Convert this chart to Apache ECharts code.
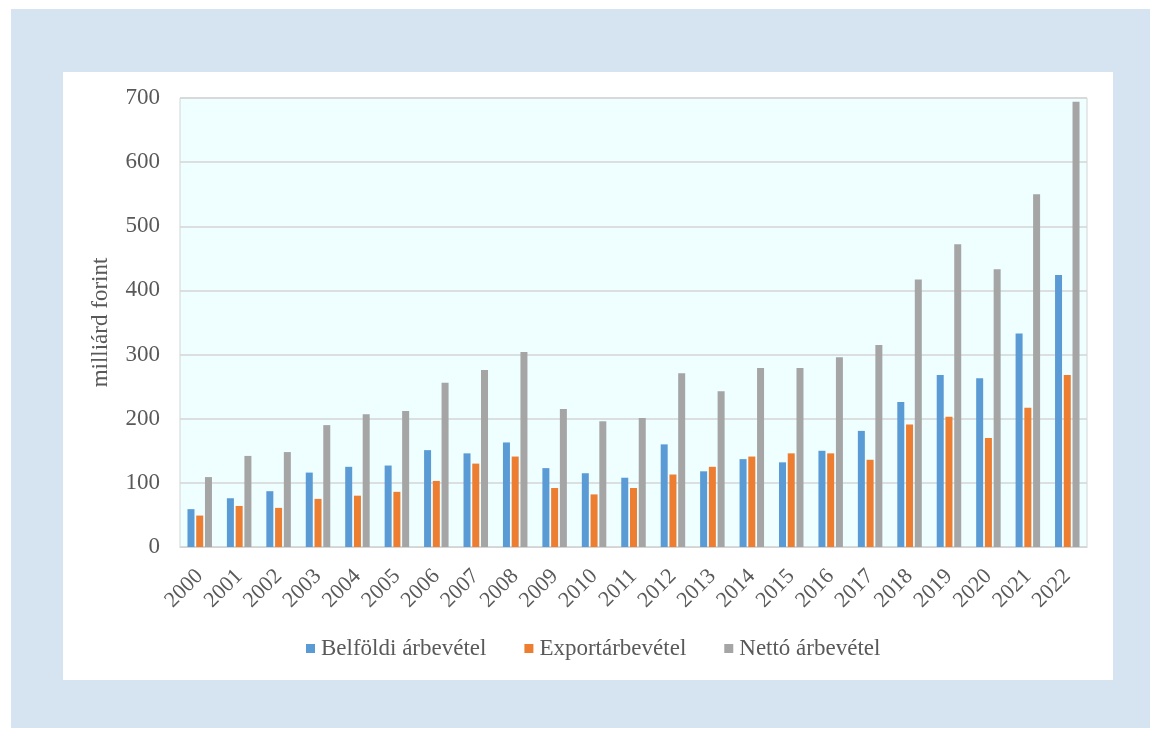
<!DOCTYPE html>
<html lang="hu">
<head>
    <meta charset="UTF-8">
    <title>Árbevétel</title>
    <script src="https://cdn.jsdelivr.net/npm/echarts@6/dist/echarts.min.js"></script>
    <style>
        html, body { margin: 0; padding: 0; background: #ffffff; }
        #frame { position: absolute; left: 11px; top: 9px; width: 1139px; height: 719px; background: #D6E3F1; }
        #card { position: absolute; left: 63px; top: 72px; width: 1050px; height: 608px; background: #ffffff; }
        #container { position: absolute; left: 0; top: 0; width: 1153px; height: 731px; }
    </style>
</head>
<body>
<div id="frame"></div>
<div id="card"></div>
<div id="container"></div>
<script type="text/javascript">
    // évek
    let years = ['2000', '2001', '2002', '2003', '2004', '2005', '2006', '2007', '2008', '2009', '2010', '2011',
        '2012', '2013', '2014', '2015', '2016', '2017', '2018', '2019', '2020', '2021', '2022'];
    // milliárd forint
    let belfoldi = [59, 76, 87, 116, 125, 127, 151, 146, 163, 123, 115, 108, 160, 118, 137, 132, 150, 181, 226, 268, 263, 333, 424];
    let export_ = [49, 64, 61, 75, 80, 86, 103, 130, 141, 92, 82, 92, 113, 125, 141, 146, 146, 136, 191, 203, 170, 217, 268];
    let netto = [109, 142, 148, 190, 207, 212, 256, 276, 304, 215, 196, 201, 271, 243, 279, 279, 296, 315, 417, 472, 433, 550, 694];
    let yTicks = [0, 100, 200, 300, 400, 500, 600, 700];

    let font = '"Liberation Serif", "DejaVu Serif", serif';
    let textColor = '#595959';

    let myChart = echarts.init(document.getElementById('container'));
    let option = {
        color: ['#5B9BD5', '#ED7D31', '#A5A5A5'],
        animation: false,
        grid: {
            left: 180,
            top: 98,
            width: 907,
            height: 449,
            show: true,
            backgroundColor: '#EFFEFF',
            borderColor: '#D4D4D4',
            borderWidth: 1
        },
        legend: {
            top: 632,
            left: 301,
            itemWidth: 9,
            itemHeight: 9,
            itemGap: 38,
            icon: 'rect',
            textStyle: {fontFamily: font, fontSize: 23, color: textColor, padding: [0, 0, 0, 1]},
            data: ['Belföldi árbevétel', 'Exportárbevétel', 'Nettó árbevétel']
        },
        xAxis: {
            type: 'category',
            data: years,
            axisTick: {show: false},
            axisLine: {lineStyle: {color: '#D4D4D4'}},
            axisLabel: {
                rotate: 45,
                interval: 0,
                margin: 26,
                fontFamily: font,
                fontSize: 22,
                color: textColor
            }
        },
        yAxis: {
            type: 'value',
            min: yTicks[0],
            max: yTicks[yTicks.length - 1],
            interval: 100,
            name: 'milliárd forint',
            nameLocation: 'middle',
            nameGap: 68,
            nameTextStyle: {fontFamily: font, fontSize: 23, color: textColor},
            axisLine: {show: false},
            axisTick: {show: false},
            axisLabel: {fontFamily: font, fontSize: 23, color: textColor, margin: 20},
            splitLine: {lineStyle: {color: '#D4D4D4', width: 1.5}}
        },
        series: [
            {name: 'Belföldi árbevétel', type: 'bar', barWidth: 7, barGap: '25%', data: belfoldi},
            {name: 'Exportárbevétel', type: 'bar', barWidth: 7, barGap: '25%', data: export_},
            {name: 'Nettó árbevétel', type: 'bar', barWidth: 7, barGap: '25%', data: netto}
        ]
    };
    myChart.setOption(option);
</script>
</body>
</html>
